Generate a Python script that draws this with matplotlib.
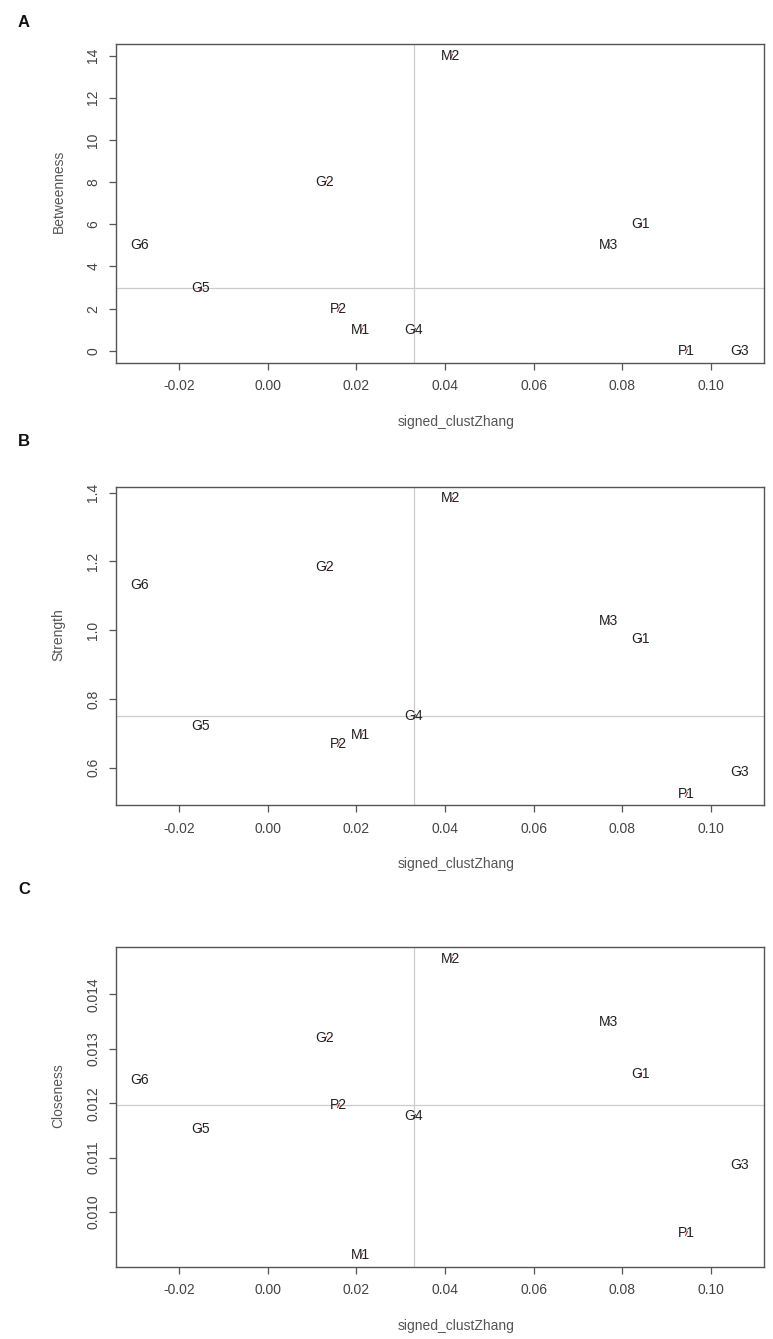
import numpy as np
import matplotlib
matplotlib.use("Agg")
import matplotlib.pyplot as plt

plt.rcParams['font.family'] = ['Liberation Sans', 'DejaVu Sans']

nodes = ["M2", "G2", "G6", "G5", "P2", "M1", "G4", "G1", "M3", "P1", "G3"]
clust = [0.0413, 0.0129, -0.0290, -0.0153, 0.0159, 0.0210, 0.0329, 0.0841, 0.0769, 0.0945, 0.1065]
betweenness = [14, 8, 5, 3, 2, 1, 1, 6, 5, 0, 0]
strength = [1.383, 1.184, 1.131, 0.721, 0.668, 0.696, 0.751, 0.975, 1.026, 0.525, 0.588]
closeness = [0.014650, 0.013200, 0.012425, 0.011530, 0.011968, 0.009212, 0.011757, 0.012537, 0.013496, 0.009606, 0.010860]

xticks = [-0.02, 0.00, 0.02, 0.04, 0.06, 0.08, 0.10]
xtick_labels = ["-0.02", "0.00", "0.02", "0.04", "0.06", "0.08", "0.10"]
panels = [
    ("A", "Betweenness", betweenness, [0, 2, 4, 6, 8, 10, 12, 14], ["0", "2", "4", "6", "8", "10", "12", "14"]),
    ("B", "Strength", strength, [0.6, 0.8, 1.0, 1.2, 1.4], ["0.6", "0.8", "1.0", "1.2", "1.4"]),
    ("C", "Closeness", closeness, [0.010, 0.011, 0.012, 0.013, 0.014], ["0.010", "0.011", "0.012", "0.013", "0.014"]),
]

W, H = 773, 1339
fig = plt.figure(figsize=(W / 100, H / 100), dpi=100)

boxes = [(43.7, 362.7), (486.7, 805.3), (947.3, 1266.7)]
letter_y = [22.7, 441.7, 890]
left_px, right_px = 115.5, 763.5

spine_col = "#555555"
tick_col = "#444444"
label_col = "#555555"

def expand(vals):
    lo, hi = min(vals), max(vals)
    d = (hi - lo) * 0.04
    return lo - d, hi + d

for (letter, ylabel, yvals, yt, ytl), (top, bot), ly in zip(panels, boxes, letter_y):
    ax = fig.add_axes([left_px / W, 1 - bot / H, (right_px - left_px) / W, (bot - top) / H])
    ax.set_xlim(*expand(clust))
    ax.set_ylim(*expand(yvals))
    ax.axvline(np.median(clust), color="#cccccc", lw=0.9, zorder=1)
    ax.axhline(np.median(yvals), color="#cccccc", lw=0.9, zorder=1)
    ax.plot(clust, yvals, linestyle="none", marker=(2, 0, -25), markersize=4,
            markeredgecolor="#b03030", markeredgewidth=0.8, zorder=2)
    for name, xv, yv in zip(nodes, clust, yvals):
        ax.text(xv, yv, name, ha="center", va="center", fontsize=10, color="#222222", zorder=3)
    ax.set_xticks(xticks)
    ax.set_xticklabels(xtick_labels)
    ax.set_yticks(yt)
    ax.set_yticklabels(ytl, rotation=90, va="center")
    ax.tick_params(axis="both", direction="out", length=5, width=0.9, color=spine_col,
                   labelcolor=tick_col, labelsize=10)
    ax.tick_params(axis="x", pad=7)
    ax.tick_params(axis="y", pad=6)
    for s in ax.spines.values():
        s.set_color(spine_col)
        s.set_linewidth(1.0)
    ax.set_xlabel("signed_clustZhang", fontsize=10, color=label_col, va="center")
    ax.xaxis.set_label_coords(0.525, -59 / (bot - top))
    ax.set_ylabel(ylabel, fontsize=10, color=label_col, va="center")
    ax.yaxis.set_label_coords((58.5 - left_px) / (right_px - left_px), 0.536)
    fig.text(24 / W, 1 - ly / H, letter, fontsize=12, fontweight="bold", ha="center", va="center", color="#111111")

fig.savefig("out.png", dpi=100, facecolor="white")
